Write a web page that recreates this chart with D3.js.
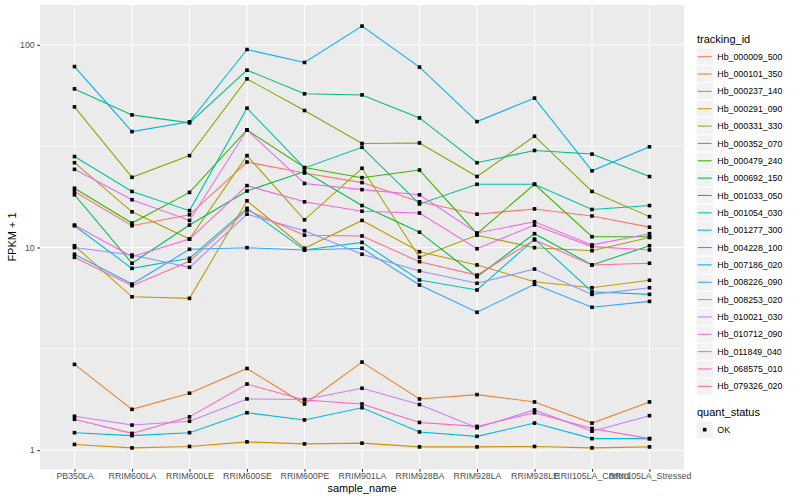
<!DOCTYPE html>
<html>
<head>
<meta charset="utf-8">
<script src="https://cdn.jsdelivr.net/npm/d3@7"></script>
<style>
body { margin: 0; background: #fff; }
text { font-family: "Liberation Sans", Arial, sans-serif; }
</style>
</head>
<body>
<div id="chart"></div>
<script>
var samples = ["PB350LA", "RRIM600LA", "RRIM600LE", "RRIM600SE", "RRIM600PE", "RRIM901LA",
               "RRIM928BA", "RRIM928LA", "RRIM928LE", "RRII105LA_Control", "RRII105LA_Stressed"];

var trackingIds = ["Hb_000009_500", "Hb_000101_350", "Hb_000237_140", "Hb_000291_090", "Hb_000331_330",
                   "Hb_000352_070", "Hb_000479_240", "Hb_000692_150", "Hb_001033_050", "Hb_001054_030",
                   "Hb_001277_300", "Hb_004228_100", "Hb_007186_020", "Hb_008226_090", "Hb_008253_020",
                   "Hb_010021_030", "Hb_010712_090", "Hb_011849_040", "Hb_068575_010", "Hb_079326_020"];

var palette = ["#F8766D", "#EA8331", "#D89000", "#C09B00", "#A3A500", "#7CAE00", "#39B600", "#00BB4E",
               "#00BF7D", "#00C1A3", "#00BFC4", "#00BAE0", "#00B0F6", "#35A2FF", "#9590FF", "#C77CFF",
               "#E76BF3", "#FA62DB", "#FF62BC", "#FF6C91"];

// FPKM + 1, one row per tracking_id, one value per sample
var fpkm1 = [
  [18.9, 12.8, 14.5, 26.4, 23.3, 20.9, 16.8, 14.6, 15.5, 14.3, 12.6],        // Hb_000009_500
  [2.65, 1.59, 1.91, 2.53, 1.69, 2.72, 1.79, 1.88, 1.73, 1.36, 1.73],        // Hb_000101_350
  [1.067, 1.026, 1.043, 1.099, 1.074, 1.083, 1.038, 1.038, 1.043, 1.026, 1.038], // Hb_000237_140
  [10.2, 5.71, 5.61, 17.0, 9.91, 13.6, 9.53, 8.20, 6.78, 6.33, 6.89],        // Hb_000291_090
  [26.2, 15.0, 11.0, 28.4, 13.7, 24.6, 8.94, 11.5, 9.98, 9.64, 11.2],        // Hb_000331_330
  [49.4, 22.2, 28.4, 67.9, 47.4, 32.6, 32.8, 22.4, 35.4, 18.9, 14.2],        // Hb_000352_070
  [19.6, 13.2, 18.7, 38.0, 24.8, 22.1, 24.1, 11.7, 20.5, 11.3, 11.3],        // Hb_000479_240
  [18.2, 8.36, 12.9, 19.0, 23.7, 16.1, 11.9, 7.17, 11.7, 8.20, 10.2],        // Hb_000692_150
  [60.6, 45.1, 41.2, 75.0, 57.3, 56.6, 43.6, 26.2, 30.1, 28.9, 22.4],        // Hb_001033_050
  [28.1, 18.9, 15.2, 48.7, 24.7, 31.2, 16.4, 20.5, 20.5, 15.4, 16.1],        // Hb_001054_030
  [12.8, 7.89, 8.84, 15.6, 9.72, 10.6, 6.91, 6.17, 11.0, 6.05, 5.87],        // Hb_001277_300
  [1.22, 1.18, 1.22, 1.53, 1.41, 1.62, 1.23, 1.17, 1.36, 1.14, 1.14],        // Hb_004228_100
  [78.1, 37.3, 41.7, 94.8, 81.8, 123.7, 77.6, 41.8, 54.6, 23.9, 31.4],       // Hb_007186_020
  [9.26, 6.60, 9.80, 9.98, 9.72, 9.91, 6.53, 4.79, 6.58, 5.07, 5.42],        // Hb_008226_090
  [10.0, 9.18, 7.98, 14.6, 12.1, 9.26, 7.66, 6.66, 7.83, 5.87, 6.33],        // Hb_008253_020
  [1.47, 1.33, 1.39, 1.79, 1.78, 2.02, 1.68, 1.29, 1.58, 1.24, 1.48],        // Hb_010021_030
  [24.3, 17.2, 13.6, 38.0, 20.7, 19.3, 18.2, 11.8, 13.4, 10.3, 11.7],        // Hb_010712_090
  [12.9, 9.01, 11.0, 20.2, 16.8, 15.1, 14.8, 9.86, 12.9, 10.1, 9.72],        // Hb_011849_040
  [1.42, 1.21, 1.46, 2.12, 1.77, 1.69, 1.37, 1.31, 1.53, 1.28, 1.14],        // Hb_068575_010
  [8.94, 6.48, 8.56, 15.3, 11.5, 11.4, 8.51, 7.31, 10.9, 8.20, 8.36]         // Hb_079326_020
];

var yTicks = [1, 10, 100];
var quantStatus = ["OK"];

var W = 800, H = 500;
var panel = { left: 40, right: 684, top: 5, bottom: 469 };

var svg = d3.select("#chart").append("svg")
  .attr("width", W)
  .attr("height", H);

var x = d3.scalePoint()
  .domain(samples)
  .range([panel.left, panel.right])
  .padding(0.6);

// log scale with ggplot-style 5% expansion
var all = d3.merge(fpkm1);
var lmin = Math.log10(d3.min(all)), lmax = Math.log10(d3.max(all));
var pad = (lmax - lmin) * 0.05;
var y = d3.scaleLog()
  .domain([Math.pow(10, lmin - pad), Math.pow(10, lmax + pad)])
  .range([panel.bottom, panel.top]);

var minorTicks = [Math.pow(10, 0.5), Math.pow(10, 1.5)];

// panel background
svg.append("rect")
  .attr("x", panel.left)
  .attr("y", panel.top)
  .attr("width", panel.right - panel.left)
  .attr("height", panel.bottom - panel.top)
  .attr("fill", "#EBEBEB");

// grid
svg.append("g").selectAll("line").data(minorTicks).enter().append("line")
  .attr("x1", panel.left).attr("x2", panel.right)
  .attr("y1", function(d) { return y(d); })
  .attr("y2", function(d) { return y(d); })
  .attr("stroke", "#fff").attr("stroke-width", 0.55);

svg.append("g").selectAll("line").data(yTicks).enter().append("line")
  .attr("x1", panel.left).attr("x2", panel.right)
  .attr("y1", function(d) { return y(d); })
  .attr("y2", function(d) { return y(d); })
  .attr("stroke", "#fff").attr("stroke-width", 1.07);

svg.append("g").selectAll("line").data(samples).enter().append("line")
  .attr("y1", panel.top).attr("y2", panel.bottom)
  .attr("x1", function(d) { return x(d); })
  .attr("x2", function(d) { return x(d); })
  .attr("stroke", "#fff").attr("stroke-width", 1.07);

// series lines
var line = d3.line()
  .x(function(d, i) { return x(samples[i]); })
  .y(function(d) { return y(d); });

svg.append("g").selectAll("path").data(fpkm1).enter().append("path")
  .attr("d", line)
  .attr("fill", "none")
  .attr("stroke", function(d, i) { return palette[i]; })
  .attr("stroke-width", 1.07);

// points
var pts = [];
fpkm1.forEach(function(row) {
  row.forEach(function(v, j) { pts.push({ s: samples[j], v: v }); });
});
var ps = 3.6;
svg.append("g").selectAll("rect").data(pts).enter().append("rect")
  .attr("x", function(d) { return x(d.s) - ps / 2; })
  .attr("y", function(d) { return y(d.v) - ps / 2; })
  .attr("width", ps).attr("height", ps)
  .attr("fill", "#000");

// axes
var yAxis = svg.append("g")
  .attr("transform", "translate(" + panel.left + ",0)")
  .call(d3.axisLeft(y).tickValues(yTicks).tickFormat(d3.format("d")).tickSize(2.75).tickPadding(2.5));
var xAxis = svg.append("g")
  .attr("transform", "translate(0," + panel.bottom + ")")
  .call(d3.axisBottom(x).tickSize(2.75).tickPadding(1));

[yAxis, xAxis].forEach(function(a) {
  a.select(".domain").remove();
  a.selectAll(".tick line").attr("stroke", "#333").attr("stroke-width", 1.07);
  a.selectAll(".tick text").attr("fill", "#4D4D4D").attr("font-size", 8.8)
    .attr("font-family", "Liberation Sans, Arial, sans-serif");
});

svg.append("text")
  .attr("x", (panel.left + panel.right) / 2)
  .attr("y", 492)
  .attr("text-anchor", "middle")
  .attr("font-size", 11)
  .text("sample_name");

svg.append("text")
  .attr("transform", "translate(16," + ((panel.top + panel.bottom) / 2) + ") rotate(-90)")
  .attr("text-anchor", "middle")
  .attr("font-size", 11)
  .text("FPKM + 1");

// legend: tracking_id
var lg = svg.append("g").attr("transform", "translate(696,0)");
lg.append("text").attr("x", 1).attr("y", 43).attr("font-size", 11).text("tracking_id");

var keyH = 17.35;
var keys = lg.selectAll("g.key").data(trackingIds).enter().append("g")
  .attr("class", "key")
  .attr("transform", function(d, i) { return "translate(0," + (48 + i * keyH) + ")"; });
keys.append("rect")
  .attr("width", keyH).attr("height", keyH)
  .attr("fill", "#F2F2F2").attr("stroke", "#fff").attr("stroke-width", 1);
keys.append("line")
  .attr("x1", 1.7).attr("x2", keyH - 1.7)
  .attr("y1", keyH / 2).attr("y2", keyH / 2)
  .attr("stroke", function(d, i) { return palette[i]; })
  .attr("stroke-width", 1.07);
keys.append("text")
  .attr("x", keyH + 4).attr("y", keyH / 2 + 3.1)
  .attr("font-size", 8.8)
  .text(function(d) { return d; });

// legend: quant_status
var qg = svg.append("g").attr("transform", "translate(696,0)");
qg.append("text").attr("x", 1).attr("y", 416).attr("font-size", 11).text("quant_status");
var qk = qg.selectAll("g.key").data(quantStatus).enter().append("g")
  .attr("class", "key")
  .attr("transform", "translate(0,421)");
qk.append("rect")
  .attr("width", keyH).attr("height", keyH)
  .attr("fill", "#F2F2F2").attr("stroke", "#fff").attr("stroke-width", 1);
qk.append("rect")
  .attr("x", keyH / 2 - ps / 2).attr("y", keyH / 2 - ps / 2)
  .attr("width", ps).attr("height", ps)
  .attr("fill", "#000");
qk.append("text")
  .attr("x", keyH + 4).attr("y", keyH / 2 + 3.1)
  .attr("font-size", 8.8)
  .text(function(d) { return d; });
</script>
</body>
</html>
